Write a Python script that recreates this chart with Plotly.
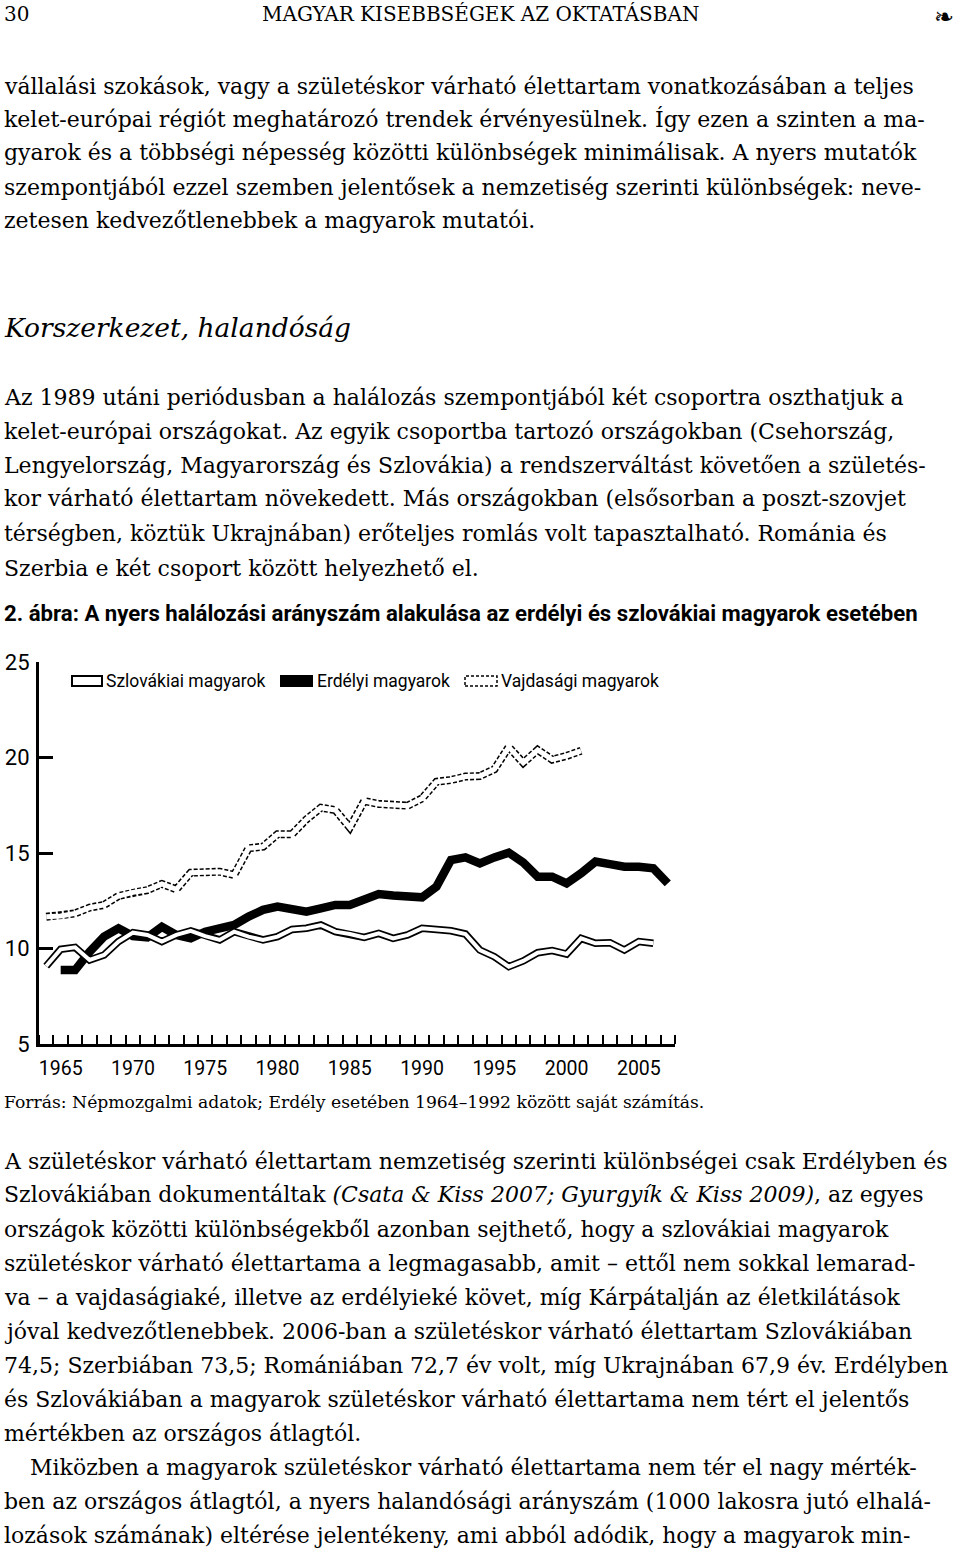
import plotly.graph_objects as go

W, H = 960, 1560

# ---------------- data ----------------
years_slovak = list(range(1964, 2007))
slovak = [9.08, 9.96, 10.06, 9.40, 9.66, 10.36, 10.83, 10.71, 10.36, 10.71,
          10.92, 10.65, 10.45, 10.88, 10.62, 10.45, 10.62, 11.00, 11.06, 11.23,
          10.88, 10.76, 10.58, 10.79, 10.53, 10.71, 11.06, 11.00, 10.93, 10.76,
          9.92, 9.57, 9.05, 9.35, 9.78, 9.89, 9.71, 10.53, 10.27, 10.30,
          9.92, 10.36, 10.27]

years_erdely = list(range(1965, 2008))
erdely = [8.87, 8.87, 9.83, 10.62, 11.06, 10.65, 10.58, 11.14, 10.71, 10.53,
          10.88, 11.09, 11.23, 11.67, 12.02, 12.19, 12.02, 11.93, 12.10, 12.28,
          12.28, 12.55, 12.85, 12.77, 12.68, 12.68, 13.24, 14.63, 14.77, 14.46,
          14.77, 15.02, 14.50, 13.76, 13.76, 13.41, 13.94, 14.55, 14.42, 14.28,
          14.28, 14.20, 13.41]

years_vajdasag = list(range(1964, 2002))
vajdasag = [11.66, 11.70, 11.84, 12.14, 12.28, 12.75, 12.94, 13.06, 13.38, 13.10,
            13.97, 14.00, 14.02, 13.85, 15.25, 15.33, 15.98, 15.98, 16.76, 17.37,
            17.25, 16.33, 17.72, 17.57, 17.51, 17.48, 17.86, 18.73, 18.82, 19.00,
            19.03, 19.38, 20.55, 19.72, 20.40, 19.89, 20.08, 20.35]

series_names = ["Szlovákiai magyarok", "Erdélyi magyarok", "Vajdasági magyarok"]
x_tick_years = [1965, 1970, 1975, 1980, 1985, 1990, 1995, 2000, 2005]
y_ticks = [5, 10, 15, 20, 25]

# ---------------- helpers ----------------
def px(x):
    return x / W

def py(y):
    return 1 - y / H

SERIF = "DejaVu Serif"
NARROW = "Roboto, Liberation Sans Narrow, sans-serif"

fig = go.Figure()

# Vajdasági: dashed double line
fig.add_trace(go.Scatter(x=years_vajdasag, y=vajdasag, mode="lines",
                         line=dict(color="black", width=8, dash="4px,2px"),
                         showlegend=False, hoverinfo="skip"))
fig.add_trace(go.Scatter(x=years_vajdasag, y=vajdasag, mode="lines",
                         line=dict(color="white", width=5),
                         showlegend=False, name=series_names[2]))
# Erdélyi: thick black
fig.add_trace(go.Scatter(x=years_erdely, y=erdely, mode="lines",
                         line=dict(color="black", width=8.5),
                         showlegend=False, name=series_names[1]))
# Szlovákiai: white double line
fig.add_trace(go.Scatter(x=years_slovak, y=slovak, mode="lines",
                         line=dict(color="black", width=7.5),
                         showlegend=False, hoverinfo="skip"))
fig.add_trace(go.Scatter(x=years_slovak, y=slovak, mode="lines",
                         line=dict(color="white", width=4),
                         showlegend=False, name=series_names[0]))

fig.update_layout(
    width=W, height=H,
    margin=dict(l=0, r=0, t=0, b=0, pad=0, autoexpand=False),
    paper_bgcolor="white", plot_bgcolor="white",
    showlegend=False,
    xaxis=dict(
        automargin=False,
        domain=[px(39), px(675)],
        range=[1963.5, 2007.5],
        tickvals=x_tick_years, ticktext=[str(v) for v in x_tick_years],
        ticks="", showgrid=False, zeroline=False,
        showline=True, linewidth=3, linecolor="black",
        tickfont=dict(family=NARROW, size=19.5, color="black"),
        ticklabelstandoff=5,
        minor=dict(tick0=1963.5, dtick=1, ticks="inside", ticklen=9,
                   tickwidth=2, tickcolor="black", showgrid=False),
    ),
    yaxis=dict(
        automargin=False,
        domain=[py(1044), py(662)],
        range=[5, 25],
        tickvals=y_ticks, ticktext=[str(v) for v in y_ticks],
        ticks="inside", ticklen=14, tickwidth=3, tickcolor="black",
        showgrid=False, zeroline=False,
        showline=True, linewidth=3, linecolor="black",
        tickfont=dict(family=NARROW, size=22, color="black"),
        ticklabelstandoff=2,
    ),
)

shapes = []
annots = []

# legend
shapes.append(dict(type="rect", xref="paper", yref="paper",
                   x0=px(72), x1=px(102), y0=py(686), y1=py(676),
                   line=dict(color="black", width=2), fillcolor="white"))
shapes.append(dict(type="rect", xref="paper", yref="paper",
                   x0=px(280), x1=px(313), y0=py(687), y1=py(675),
                   line=dict(color="black", width=0), fillcolor="black"))
shapes.append(dict(type="rect", xref="paper", yref="paper",
                   x0=px(465), x1=px(497), y0=py(686), y1=py(676),
                   line=dict(color="black", width=1.5, dash="3px,2px"), fillcolor="white"))
for xl, name in zip([104, 315, 499], series_names):
    annots.append(dict(x=px(xl), y=py(681), xref="paper", yref="paper",
                       text=name, showarrow=False, xanchor="left", yanchor="middle",
                       font=dict(family=NARROW, size=17.5, color="black")))

# header
annots.append(dict(x=px(2), y=py(14), xref="paper", yref="paper", text="30",
                   showarrow=False, xanchor="left", yanchor="middle",
                   font=dict(family=SERIF, size=20, color="black")))
annots.append(dict(x=px(480), y=py(14), xref="paper", yref="paper",
                   text="MAGYAR KISEBBSÉGEK AZ OKTATÁSBAN",
                   showarrow=False, xanchor="center", yanchor="middle",
                   font=dict(family=SERIF, size=20, color="black")))
annots.append(dict(x=px(956), y=py(17), xref="paper", yref="paper", text="❧",
                   showarrow=False, xanchor="right", yanchor="middle",
                   font=dict(family="DejaVu Sans", size=24, color="black")))

BODY = 22
body_lines = [
    (86, "vállalási szokások, vagy a születéskor várható élettartam vonatkozásában a teljes"),
    (119, "kelet-európai régiót meghatározó trendek érvényesülnek. Így ezen a szinten a ma-"),
    (153, "gyarok és a többségi népesség közötti különbségek minimálisak. A nyers mutatók"),
    (187, "szempontjából ezzel szemben jelentősek a nemzetiség szerinti különbségek: neve-"),
    (221, "zetesen kedvezőtlenebbek a magyarok mutatói."),
    (397, "Az 1989 utáni periódusban a halálozás szempontjából két csoportra oszthatjuk a"),
    (431, "kelet-európai országokat. Az egyik csoportba tartozó országokban (Csehország,"),
    (465, "Lengyelország, Magyarország és Szlovákia) a rendszerváltást követően a születés-"),
    (499, "kor várható élettartam növekedett. Más országokban (elsősorban a poszt-szovjet"),
    (533, "térségben, köztük Ukrajnában) erőteljes romlás volt tapasztalható. Románia és"),
    (568, "Szerbia e két csoport között helyezhető el."),
    (1161, "A születéskor várható élettartam nemzetiség szerinti különbségei csak Erdélyben és"),
    (1194, "Szlovákiában dokumentáltak <i>(Csata &amp; Kiss 2007; Gyurgyík &amp; Kiss 2009)</i>, az egyes"),
    (1229, "országok közötti különbségekből azonban sejthető, hogy a szlovákiai magyarok"),
    (1263, "születéskor várható élettartama a legmagasabb, amit – ettől nem sokkal lemarad-"),
    (1297, "va – a vajdaságiaké, illetve az erdélyieké követ, míg Kárpátalján az életkilátások"),
    (1331, "jóval kedvezőtlenebbek. 2006-ban a születéskor várható élettartam Szlovákiában"),
    (1365, "74,5; Szerbiában 73,5; Romániában 72,7 év volt, míg Ukrajnában 67,9 év. Erdélyben"),
    (1399, "és Szlovákiában a magyarok születéskor várható élettartama nem tért el jelentős"),
    (1433, "mértékben az országos átlagtól."),
    (1501, "ben az országos átlagtól, a nyers halandósági arányszám (1000 lakosra jutó elhalá-"),
    (1535, "lozások számának) eltérése jelentékeny, ami abból adódik, hogy a magyarok min-"),
]
for yy, txt in body_lines:
    annots.append(dict(x=px(2), y=py(yy), xref="paper", yref="paper", text=txt,
                       showarrow=False, xanchor="left", yanchor="middle",
                       font=dict(family=SERIF, size=BODY, color="black")))
annots.append(dict(x=px(28), y=py(1467), xref="paper", yref="paper",
                   text="Miközben a magyarok születéskor várható élettartama nem tér el nagy mérték-",
                   showarrow=False, xanchor="left", yanchor="middle",
                   font=dict(family=SERIF, size=BODY, color="black")))

# section heading
annots.append(dict(x=px(2), y=py(327), xref="paper", yref="paper",
                   text="<i>Korszerkezet, halandóság</i>",
                   showarrow=False, xanchor="left", yanchor="middle",
                   font=dict(family=SERIF, size=26.5, color="black")))

# figure caption
annots.append(dict(x=px(2), y=py(613), xref="paper", yref="paper",
                   text="<b>2. ábra: A nyers halálozási arányszám alakulása az erdélyi és szlovákiai magyarok esetében</b>",
                   showarrow=False, xanchor="left", yanchor="middle",
                   font=dict(family=NARROW, size=22.2, color="black")))

# source
annots.append(dict(x=px(2), y=py(1102), xref="paper", yref="paper",
                   text="Forrás: Népmozgalmi adatok; Erdély esetében 1964–1992 között saját számítás.",
                   showarrow=False, xanchor="left", yanchor="middle",
                   font=dict(family=SERIF, size=17.2, color="black")))

fig.update_layout(shapes=shapes, annotations=annots)
fig.write_html("out.html",
               config={"displayModeBar": False},
               post_script="document.body.style.margin='0';document.body.style.overflow='hidden';")
